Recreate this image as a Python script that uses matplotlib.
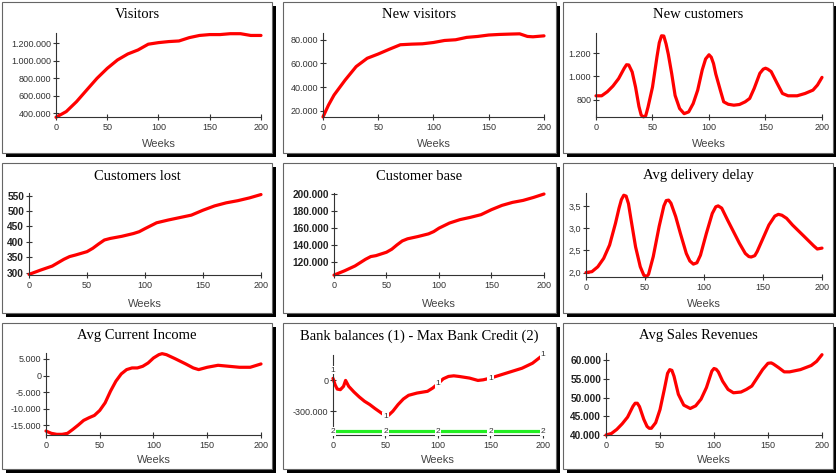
import matplotlib
matplotlib.use('Agg')
import matplotlib.pyplot as plt
from matplotlib.patches import Rectangle

W, H = 837, 475

# ---- data ----
visitors_x = [0, 10, 20, 30, 40, 50, 60, 70, 80, 90, 100, 110, 120, 130, 140, 150, 160, 170, 180, 190, 200]
visitors = [355000, 420000, 533000, 667000, 800000, 914000, 1010000, 1078000, 1124000, 1190000, 1208000,
            1220000, 1227000, 1265000, 1290000, 1300000, 1300000, 1310000, 1310000, 1290000, 1290000]

new_visitors_x = [0, 5, 10, 20, 30, 40, 50, 60, 70, 80, 90, 100, 110, 120, 130, 140, 150, 160, 170, 178, 185, 190, 200]
new_visitors = [15000, 25000, 33400, 46000, 57400, 64400, 68000, 72000, 75800, 76300, 76600, 77700, 79400,
                80000, 82000, 82800, 84000, 84500, 84800, 85000, 82800, 82500, 83300]

new_cust_x = [0, 5, 10, 15, 20, 25, 27, 29, 32, 35, 38, 40, 42, 44, 46, 50, 54, 56, 58, 60, 62, 64, 67, 70,
              74, 78, 82, 86, 90, 94, 97, 100, 102, 104, 106, 110, 113, 117, 122, 127, 132, 136, 140, 145,
              148, 150, 152, 155, 160, 165, 170, 178, 185, 192, 196, 200]
new_customers = [832, 832, 867, 916, 980, 1070, 1100, 1098, 1038, 907, 740, 665, 650, 660, 733, 907, 1171,
                 1290, 1350, 1348, 1280, 1190, 1023, 835, 722, 678, 693, 765, 881, 1055, 1150, 1186, 1165,
                 1110, 1020, 881, 780, 759, 751, 757, 780, 809, 896, 1026, 1062, 1070, 1062, 1041, 945, 852,
                 832, 832, 852, 881, 925, 991]

lost_x = [0, 10, 20, 30, 35, 40, 50, 55, 60, 65, 70, 80, 90, 95, 100, 110, 120, 130, 140, 150, 160, 170, 180, 190, 200]
customers_lost = [294, 308, 321, 343, 352, 357, 368, 379, 393, 406, 411, 418, 427, 433, 443, 462, 471, 479,
                  487, 503, 517, 527, 534, 543, 554]

base_x = [0, 10, 20, 30, 35, 40, 50, 55, 60, 65, 70, 80, 90, 95, 100, 110, 120, 130, 140, 150, 160, 170, 180, 190, 200]
customer_base = [105000, 110000, 115700, 123500, 126700, 127800, 131800, 135300, 140400, 145000, 147500,
                 150200, 153300, 156000, 160000, 166000, 170000, 172700, 175800, 181700, 186700, 190200,
                 192500, 196000, 200000]

delay_x = [0, 5, 10, 15, 20, 25, 28, 30, 32, 34, 36, 38, 42, 46, 49, 51, 53, 57, 62, 66, 68, 70, 72, 76, 80,
           85, 88, 91, 94, 97, 102, 107, 110, 112, 115, 120, 125, 130, 135, 138, 140, 143, 145, 150, 155,
           160, 163, 166, 170, 175, 185, 193, 196, 200]
delivery_delay = [2.00, 2.02, 2.13, 2.32, 2.62, 3.11, 3.45, 3.64, 3.74, 3.72, 3.55, 3.22, 2.58, 2.13, 1.94,
                  1.90, 1.96, 2.36, 3.04, 3.50, 3.62, 3.63, 3.56, 3.26, 2.88, 2.43, 2.26, 2.19, 2.22, 2.39,
                  2.88, 3.33, 3.48, 3.50, 3.45, 3.18, 2.92, 2.66, 2.43, 2.36, 2.35, 2.38, 2.47, 2.77, 3.07,
                  3.27, 3.31, 3.29, 3.22, 3.07, 2.81, 2.60, 2.53, 2.55]

income_x = [0, 5, 10, 15, 20, 25, 30, 35, 40, 45, 50, 55, 60, 65, 70, 75, 80, 85, 90, 95, 100, 105, 108, 112,
            120, 130, 137, 142, 150, 160, 170, 180, 190, 195, 200]
current_income = [-16700, -17400, -17700, -17700, -17400, -16200, -14900, -13500, -12700, -12000, -10500,
                  -8200, -4700, -1700, 500, 1800, 2300, 2300, 2800, 3800, 5300, 6300, 6600, 6300, 5100, 3500,
                  2300, 1800, 2500, 3100, 2800, 2500, 2500, 3000, 3500]

bank_x = [0, 2, 4, 7, 10, 12, 15, 20, 25, 30, 35, 40, 45, 48, 50, 53, 57, 62, 67, 72, 80, 90, 95, 100, 105,
          110, 115, 120, 130, 138, 143, 150, 160, 170, 180, 190, 200]
bank_balance = [20000, -42000, -84000, -90000, -58000, 0, -58000, -113000, -161000, -203000, -235000,
                -274000, -310000, -332000, -348000, -339000, -300000, -235000, -181000, -145000, -123000,
                -106000, -74000, -32000, 16000, 39000, 45000, 39000, 23000, 0, 6000, 23000, 55000, 87000,
                119000, 168000, 248000]
credit_x = [0, 200]
max_bank_credit = [-495000, -495000]
series_label_x = [0, 50, 100, 150, 200]

sales_x = [0, 5, 10, 15, 20, 25, 27, 29, 31, 35, 38, 40, 42, 46, 50, 54, 57, 59, 61, 63, 67, 72, 78, 83, 88,
           93, 98, 100, 102, 104, 108, 113, 118, 125, 130, 135, 140, 145, 150, 153, 155, 160, 165, 170, 180,
           190, 195, 200]
sales_revenue = [40000, 40400, 41500, 43000, 44800, 47700, 48500, 48500, 47600, 44200, 42300, 41800, 41800,
                 43300, 46800, 52200, 56500, 57500, 57300, 55700, 50900, 48000, 47100, 47800, 49600, 52700,
                 57100, 57800, 57600, 56900, 54400, 52200, 51300, 51500, 52200, 53100, 55300, 57500, 59200,
                 59300, 59000, 58000, 56900, 56900, 57500, 58600, 59700, 61500]

x_ticks = [0, 50, 100, 150, 200]
visitors_ticks = [400000, 600000, 800000, 1000000, 1200000]
visitors_labels = ['400.000', '600.000', '800.000', '1.000.000', '1.200.000']
new_visitors_ticks = [20000, 40000, 60000, 80000]
new_visitors_labels = ['20.000', '40.000', '60.000', '80.000']
new_cust_ticks = [800, 1000, 1200]
new_cust_labels = ['800', '1.000', '1.200']
lost_ticks = [300, 350, 400, 450, 500, 550]
lost_labels = ['300', '350', '400', '450', '500', '550']
base_ticks = [120000, 140000, 160000, 180000, 200000]
base_labels = ['120.000', '140.000', '160.000', '180.000', '200.000']
delay_ticks = [2.0, 2.5, 3.0, 3.5]
delay_labels = ['2,0', '2,5', '3,0', '3,5']
income_ticks = [-15000, -10000, -5000, 0, 5000]
income_labels = ['-15.000', '-10.000', '-5.000', '0', '5.000']
bank_ticks = [-300000, 0]
bank_labels = ['-300.000', '0']
sales_ticks = [40000, 45000, 50000, 55000, 60000]
sales_labels = ['40.000', '45.000', '50.000', '55.000', '60.000']

RED = '#ff0000'
GREEN = '#22ee22'

fig = plt.figure(figsize=(W / 100, H / 100), dpi=100)
fig.patch.set_facecolor('white')

col_edges = [(2, 272), (283, 556), (563, 833)]
row_edges = [(2, 153), (163, 313), (323, 469)]


def fx(x):
    return x / W


def fy(y):
    return 1 - y / H


# panel boxes with shadow
for (x0, x1) in col_edges:
    for (y0, y1) in row_edges:
        fig.patches.append(Rectangle((fx(x0 + 4), fy(y1 + 4)), fx(x1 - x0), (y1 - y0) / H,
                                     transform=fig.transFigure, facecolor='black', edgecolor='none', zorder=0))
        fig.patches.append(Rectangle((fx(x0), fy(y1)), fx(x1 - x0), (y1 - y0) / H,
                                     transform=fig.transFigure, facecolor='white', edgecolor='#666666',
                                     linewidth=0.8, zorder=1))


def panel(col, row, axpx, title, ylim, yticks, ylabels, bold=False):
    x0, x1, y0, y1 = axpx
    ax = fig.add_axes([fx(x0), fy(y1), fx(x1 - x0), (y1 - y0) / H])
    ax.set_facecolor('none')
    ax.set_zorder(2)
    for s in ['top', 'right']:
        ax.spines[s].set_visible(False)
    for s in ['left', 'bottom']:
        ax.spines[s].set_color('#333333')
        ax.spines[s].set_linewidth(0.8)
    ax.set_xlim(0, 200)
    ax.set_ylim(*ylim)
    ax.set_xticks(x_ticks)
    ax.set_xticklabels([str(t) for t in x_ticks], fontfamily='Liberation Sans', fontsize=6.5, color='#333333')
    ax.set_yticks(yticks)
    ax.set_yticklabels(ylabels, fontfamily='Liberation Sans',
                       fontsize=7.3 if bold else 6.5,
                       fontweight='bold' if bold else 'normal',
                       color='#222222' if bold else '#333333')
    ax.tick_params(direction='inout', length=4, width=0.8, color='#333333', pad=1.5)
    ax.tick_params(axis='x', pad=2.5)
    bx0, bx1 = col_edges[col]
    by0, by1 = row_edges[row]
    fig.text(fx((bx0 + bx1) / 2), fy(by0 + 13), title, ha='center', va='center',
             fontfamily='Liberation Serif', fontsize=10.5, color='black')
    fig.text(fx((x0 + x1) / 2), fy(by1 - 9), 'Weeks', ha='center', va='center',
             fontfamily='Liberation Sans', fontsize=8, color='#444444')
    return ax


def curve(ax, x, y, color=RED):
    ax.plot(x, y, color=color, linewidth=2.3, solid_joinstyle='round', solid_capstyle='round', clip_on=False)


ax = panel(0, 0, (56, 261, 33, 117), 'Visitors', (358000, 1318000), visitors_ticks, visitors_labels)
curve(ax, visitors_x, visitors)

ax = panel(1, 0, (323, 544, 33, 117), 'New visitors', (14900, 85700), new_visitors_ticks, new_visitors_labels)
curve(ax, new_visitors_x, new_visitors)

ax = panel(2, 0, (596, 822, 33, 117), 'New customers', (649, 1374), new_cust_ticks, new_cust_labels)
curve(ax, new_cust_x, new_customers)

ax = panel(0, 1, (29, 261, 193, 275), 'Customers lost', (292, 559), lost_ticks, lost_labels, bold=True)
curve(ax, lost_x, customers_lost)

ax = panel(1, 1, (334, 544, 193, 275), 'Customer base', (105100, 201200), base_ticks, base_labels, bold=True)
curve(ax, base_x, customer_base)

ax = panel(2, 1, (586, 822, 193, 277), 'Avg delivery delay', (1.90, 3.79), delay_ticks, delay_labels)
curve(ax, delay_x, delivery_delay)

ax = panel(0, 2, (46, 261, 353, 435), 'Avg Current Income', (-17900, 6800), income_ticks, income_labels)
curve(ax, income_x, current_income)

ax = panel(1, 2, (333, 543, 355, 435), 'Bank balances (1) - Max Bank Credit (2)', (-532000, 248000),
           bank_ticks, bank_labels)
curve(ax, bank_x, bank_balance)
curve(ax, credit_x, max_bank_credit, color=GREEN)
for xv in series_label_x:
    yv = bank_balance[bank_x.index(xv)]
    off = 6 if xv == 0 else 0
    ax.annotate('1', (xv, yv), xytext=(0, off), textcoords='offset points', ha='center', va='center',
                fontfamily='Liberation Sans', fontsize=6, color='#333333', annotation_clip=False,
                bbox=dict(boxstyle='square,pad=0.1', fc='white', ec='none'))
    ax.annotate('2', (xv, max_bank_credit[0]), ha='center', va='center',
                fontfamily='Liberation Sans', fontsize=6, color='#333333', annotation_clip=False,
                bbox=dict(boxstyle='square,pad=0.1', fc='white', ec='none'))

ax = panel(2, 2, (606, 822, 353, 435), 'Avg Sales Revenues', (40000, 61950), sales_ticks, sales_labels, bold=True)
curve(ax, sales_x, sales_revenue)

fig.savefig('out.png', dpi=100)
